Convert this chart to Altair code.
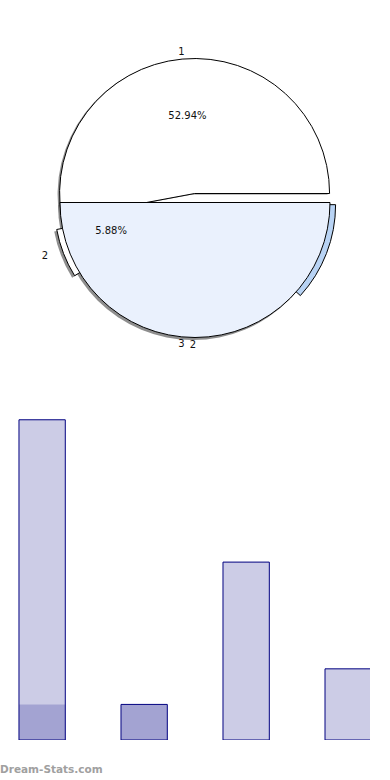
import math
import altair as alt
import pandas as pd

# ---- data ----
categories = ["1", "2", "3", "4"]
values = [9, 1, 5, 2]
pie_labels = ["1", "2", "3", "2"]
series_a = [9, 1, 5, 2]
series_b = [1, 1, 0, 0]
watermark = "Dream-Stats.com"

TOTAL = sum(values)
R = 135
CX, CY = 195, 198          # label origin
BX, BY = 195, 202.5        # centre of the lower (base) part
SHADOW = "#7a7a7a"
NAVY = "#000080"
FONT = "DejaVu Sans"

slice_fill = alt.Scale(domain=categories,
                       range=["#ffffff", "#ffffff", "#eaf1fd", "#b8d3f4"])

pie_df = pd.DataFrame({"idx": list(range(len(values))),
                       "cat": categories,
                       "value": values,
                       "label": pie_labels})

theta_scale = alt.Scale(domain=[0, TOTAL],
                        range=[math.pi / 2, math.pi / 2 - 2 * math.pi])

base = (alt.Chart(pie_df)
        .transform_window(end="sum(value)", sort=[alt.SortField("idx")],
                          frame=[None, 0])
        .transform_calculate(
            start="datum.end - datum.value",
            mid="(datum.start + datum.end) / 2",
            ang=f"PI / 2 - datum.mid / {TOTAL} * 2 * PI",
            ux="sin(datum.ang)",
            uy="-cos(datum.ang)",
            c1x=f"{CX} + 4.5 * datum.ux",
            c1y=f"{CY} + 4.5 * datum.uy",
            ex=f"{BX} + 6 * datum.ux",
            ey=f"{BY} + 6 * datum.uy",
        ))

th = alt.Theta("start:Q", scale=theta_scale, stack=None)
th2 = alt.Theta2("end:Q")

# shadows
sh_top = base.transform_filter("datum.idx == 0").mark_arc(
    outerRadius=R, fill=SHADOW, opacity=0.85).encode(
    theta=th, theta2=th2,
    x=alt.X("c1x:Q", scale=None), y=alt.Y("c1y:Q", scale=None),
    xOffset=alt.value(-2), yOffset=alt.value(1))
sh_exp = base.transform_filter("datum.idx == 1").mark_arc(
    outerRadius=R, fill=SHADOW, opacity=0.85).encode(
    theta=th, theta2=th2,
    x=alt.X("ex:Q", scale=None), y=alt.Y("ey:Q", scale=None),
    xOffset=alt.value(-2.5), yOffset=alt.value(2))

floor_df = pd.DataFrame({"k": [0]})
sh_base = alt.Chart(floor_df).mark_arc(
    outerRadius=R, fill=SHADOW, opacity=0.85).encode(
    theta=alt.value(math.pi / 2), theta2=alt.value(3 * math.pi / 2),
    x=alt.value(BX - 2), y=alt.value(BY + 2.5))

# slice 1 (exploded upward)
top = base.transform_filter("datum.idx == 0").mark_arc(
    outerRadius=R, stroke="black", strokeWidth=1).encode(
    theta=th, theta2=th2,
    color=alt.Color("cat:N", scale=slice_fill, legend=None),
    x=alt.X("c1x:Q", scale=None), y=alt.Y("c1y:Q", scale=None))

# exploded slices 2 and 4
exp = base.transform_filter("datum.idx == 1 || datum.idx == 3").mark_arc(
    outerRadius=R, stroke="black", strokeWidth=1).encode(
    theta=th, theta2=th2,
    color=alt.Color("cat:N", scale=slice_fill, legend=None),
    x=alt.X("ex:Q", scale=None), y=alt.Y("ey:Q", scale=None))

# lower floor of the pie
low = alt.Chart(floor_df).mark_arc(
    outerRadius=R, fill="#eaf1fd", stroke="black", strokeWidth=1).encode(
    theta=alt.value(math.pi / 2), theta2=alt.value(3 * math.pi / 2),
    x=alt.value(BX), y=alt.value(BY))

# labels
outer = (base.transform_filter("datum.idx < 3")
         .transform_calculate(lr="datum.idx == 1 ? 161 : 147")
         .mark_text(font=FONT, fontSize=10, color="#111", baseline="middle")
         .encode(theta=alt.Theta("mid:Q", scale=theta_scale, stack=None),
                 radius=alt.Radius("lr:Q", scale=None),
                 text="label:N", x=alt.value(CX), y=alt.value(CY)))
outer4 = (base.transform_filter("datum.idx == 3")
          .mark_text(font=FONT, fontSize=10, color="#111", baseline="middle")
          .encode(theta=alt.value(3.156), radius=alt.value(147),
                  text="label:N", x=alt.value(CX), y=alt.value(CY)))
pct = (base.transform_filter("datum.idx <= 1")
       .transform_calculate(
           p=f"format(datum.value / {TOTAL} * 100, '.2f') + '%'",
           pr="datum.idx == 0 ? 82 : 90")
       .mark_text(font=FONT, fontSize=10, color="#111", baseline="middle")
       .encode(theta=alt.Theta("mid:Q", scale=theta_scale, stack=None),
               radius=alt.Radius("pr:Q", scale=None),
               text="p:N", x=alt.value(CX), y=alt.value(CY)))

pie = alt.layer(sh_top, sh_exp, sh_base, top, exp, low,
                outer, outer4, pct).properties(width=390, height=398)

# ---- bars ----
bar_df = pd.DataFrame({"idx": list(range(len(series_a))),
                       "a": series_a, "b": series_b})
xs = alt.Scale(domain=[-0.413, 3.214], nice=False, zero=False)
ys = alt.Scale(domain=[0, 9.05], nice=False, zero=False)

bb = alt.Chart(bar_df).transform_calculate(
    x0="datum.idx - 0.227", x1="datum.idx + 0.227")
bars_b = bb.mark_rect(fill=NAVY, fillOpacity=0.2, clip=True).encode(
    x=alt.X("x0:Q", scale=xs, axis=None), x2="x1:Q",
    y=alt.Y("b:Q", scale=ys, axis=None), y2=alt.datum(0))
bars_a = bb.mark_rect(fill=NAVY, fillOpacity=0.2, stroke=NAVY,
                      strokeWidth=1, clip=True).encode(
    x=alt.X("x0:Q", scale=xs, axis=None), x2="x1:Q",
    y=alt.Y("a:Q", scale=ys, axis=None), y2=alt.datum(0))
wm = alt.Chart(pd.DataFrame({"t": [watermark]})).mark_text(
    align="left", baseline="middle", font=FONT, fontSize=10.5,
    fontWeight="bold", color="#a0a0a0").encode(
    x=alt.value(0), y=alt.value(352), text="t:N")

bars = alt.layer(bars_b, bars_a, wm).properties(width=370, height=322)

chart = (alt.vconcat(pie, bars, spacing=20)
         .properties(padding=0, background="white")
         .configure_view(stroke=None))

chart.save("out.html", embed_options={"renderer": "svg", "actions": False})
